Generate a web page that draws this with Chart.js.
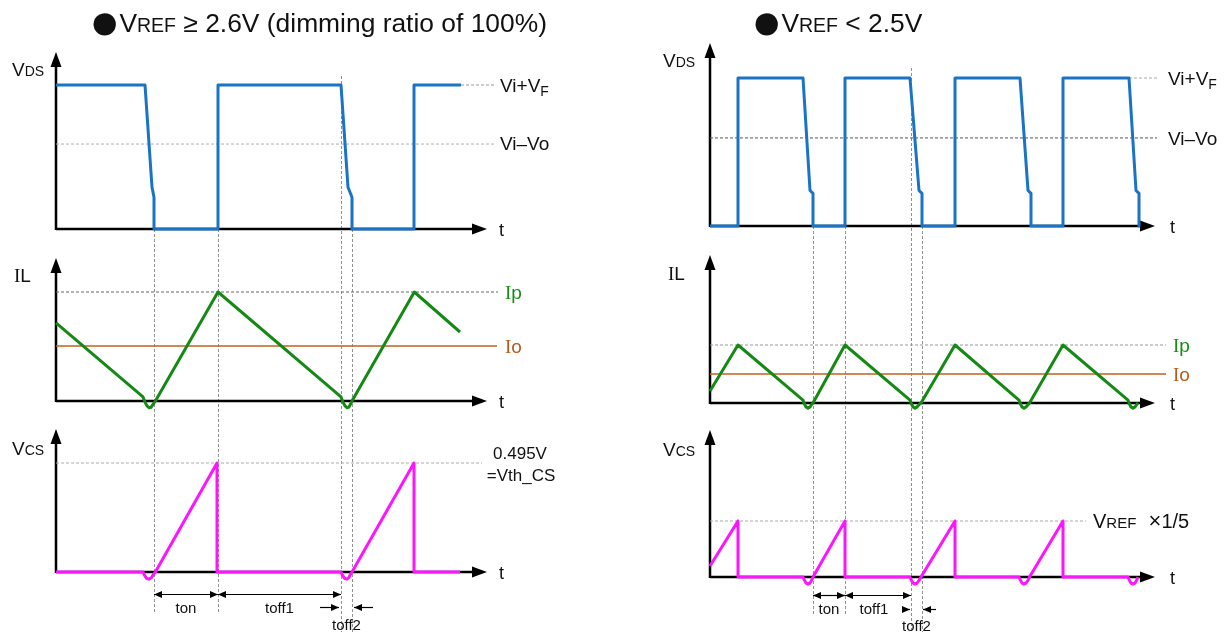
<!DOCTYPE html>
<html><head><meta charset="utf-8">
<script src="https://cdn.jsdelivr.net/npm/chart.js@4.4.1/dist/chart.umd.min.js"></script>
<style>
html,body{margin:0;padding:0;background:#fff;}
body{width:1225px;height:632px;position:relative;overflow:hidden}
canvas{position:absolute;left:0;top:0}
.ttl{position:absolute;font-family:"Liberation Sans",Arial,sans-serif;font-size:26.4px;line-height:30px;color:#111;white-space:nowrap;z-index:10}
.ttl .dot{font-size:52px;line-height:0;vertical-align:-7px;margin-right:-1px}
.ttl .sm{font-size:19.5px}
</style></head><body>
<div class="ttl" style="left:89px;top:8px"><span class="dot">●</span>V<span class="sm">REF</span> ≥ 2.6V (dimming ratio of 100%)</div>
<div class="ttl" style="left:751px;top:8px"><span class="dot">●</span>V<span class="sm">REF</span> &lt; 2.5V</div>
<canvas id="c0" width="1225" height="632"></canvas>
<canvas id="c1" width="1225" height="632"></canvas>
<canvas id="c2" width="1225" height="632"></canvas>
<canvas id="c3" width="1225" height="632"></canvas>
<canvas id="c4" width="1225" height="632"></canvas>
<canvas id="c5" width="1225" height="632"></canvas>
<script>
// ================= DATA =================
// ---- Left: VREF >= 2.6V (time in arbitrary units, levels normalised) ----
const L_T_VDS = [0, 8.9, 9.6, 9.8, 9.8, 16.2, 16.2, 28.5, 29.2, 29.6, 29.6, 35.8, 35.8, 40.5];
const L_VDS   = [1, 1, 0.29, 0.22, 0, 0, 1, 1, 0.29, 0.22, 0, 0, 1, 1];
const L_T_IL  = [0, 8.7, 8.9, 9.1, 9.3, 9.5, 9.7, 9.94, 16.2, 28.5, 28.7, 28.9, 29.1, 29.3, 29.45, 29.6, 35.83, 40.4];
const L_IL    = [0.716, 0.037, -0.01, -0.045, -0.062, -0.058, -0.032, 0, 1, 0.037, -0.01, -0.045, -0.062, -0.055, -0.03, 0, 1, 0.633];
const L_T_VCS = [0, 8.7, 8.85, 9.05, 9.3, 9.55, 9.75, 9.94, 16.1, 16.1, 28.5, 28.65, 28.85, 29.1, 29.3, 29.45, 29.6, 35.8, 35.8, 40.4];
const L_VCS   = [0, 0, -0.03, -0.058, -0.066, -0.05, -0.02, 0, 1, 0, 0, -0.03, -0.058, -0.066, -0.05, -0.02, 0, 1, 0, 0];
const L_VIVF = 1, L_VIVO = 0.59, L_IP = 1, L_IO = 0.505, L_VTH = 1;
const L_GUIDES = [9.8, 16.2, 28.5, 29.6];
const L_TON = [9.8, 16.2], L_TOFF1 = [16.2, 28.5], L_TOFF2 = [28.5, 29.6];

// ---- Right: VREF < 2.5V ----
const R_T_VDS = [0, 2.8, 2.8, 9.3, 10.0, 10.3, 10.3, 13.5, 13.5, 20.0, 20.9, 21.2, 21.2, 24.5, 24.5, 31.0, 31.8, 32.1, 32.1, 35.3, 35.3, 41.9, 42.6, 42.9, 42.9];
const R_VDS   = [0, 0, 1, 1, 0.24, 0.22, 0, 0, 1, 1, 0.24, 0.22, 0, 0, 1, 1, 0.24, 0.22, 0, 0, 1, 1, 0.24, 0.22, 0];
const R_T_IL  = [0, 2.8,
  9.3, 9.45, 9.6, 9.8, 10.0, 10.15, 10.3, 13.5,
  20.0, 20.15, 20.3, 20.5, 20.7, 20.9, 21.1, 24.5,
  30.9, 31.05, 31.2, 31.4, 31.6, 31.8, 31.95, 35.3,
  41.8, 41.95, 42.1, 42.3, 42.5, 42.65, 42.8];
const R_IL    = [0.207, 1,
  0.05, -0.02, -0.07, -0.09, -0.07, -0.03, 0, 1,
  0.05, -0.02, -0.07, -0.09, -0.07, -0.03, 0, 1,
  0.05, -0.02, -0.07, -0.09, -0.07, -0.03, 0, 1,
  0.05, -0.02, -0.07, -0.09, -0.07, -0.03, 0];
const R_T_VCS = [0, 2.8, 2.8,
  9.3, 9.45, 9.6, 9.8, 10.0, 10.15, 10.3, 13.5, 13.5,
  20.0, 20.15, 20.3, 20.5, 20.7, 20.9, 21.1, 24.5, 24.5,
  30.9, 31.05, 31.2, 31.4, 31.6, 31.8, 31.95, 35.3, 35.3,
  41.8, 41.95, 42.1, 42.3, 42.5, 42.65, 42.8];
const R_VCS   = [0.196, 1, 0,
  0, -0.06, -0.11, -0.125, -0.11, -0.06, 0, 1, 0,
  0, -0.06, -0.11, -0.125, -0.11, -0.06, 0, 1, 0,
  0, -0.06, -0.11, -0.125, -0.11, -0.06, 0, 1, 0,
  0, -0.06, -0.11, -0.125, -0.11, -0.06, 0];
const R_VIVF = 1, R_VIVO = 0.595, R_IP = 1, R_IO = 0.5, R_VREF5 = 1;
const R_GUIDES = [10.3, 13.5, 20.1, 21.2];
const R_TON = [10.3, 13.5], R_TOFF1 = [13.5, 20.1], R_TOFF2 = [20.1, 21.2];

// ================= STYLE / LAYOUT =================
const W = 1225, H = 632;
const FONT = '"Liberation Sans", Arial, sans-serif';
const SERIF = '"Liberation Serif", "DejaVu Serif", serif';
const BLUE = '#1a73c4', GREEN = '#148a14', BROWN = '#c0601c', MAGENTA = '#ff14ff';
const IPC = '#168c16', IOC = '#b85a1c';

function zip(t, v) { return t.map((x, i) => ({x, y: v[i]})); }
function line(data, color, width, dash) {
  return {data, borderColor: color, borderWidth: width, borderDash: dash || [], pointRadius: 0,
          tension: 0, fill: false, clip: false, borderJoinStyle: 'round', borderCapStyle: 'butt'};
}
function rich(ctx, x, y, parts, align) {
  const f = p => p[1] + 'px ' + (p[4] || FONT);
  let total = 0;
  for (const p of parts) { ctx.font = f(p); total += ctx.measureText(p[0]).width; }
  let cx = align === 'center' ? x - total / 2 : x;
  ctx.textBaseline = 'alphabetic'; ctx.textAlign = 'left';
  for (const p of parts) {
    ctx.font = f(p); ctx.fillStyle = p[2] || '#111';
    ctx.fillText(p[0], cx, y + (p[3] || 0)); cx += ctx.measureText(p[0]).width;
  }
}
function drawAxes(chart) {
  const {ctx, scales: {x, y}} = chart;
  const x0 = Math.round(x.getPixelForValue(0)), y0 = Math.round(y.getPixelForValue(0));
  const xt = x.getPixelForValue(x.max), yt = y.getPixelForValue(y.max);
  ctx.save(); ctx.strokeStyle = '#000'; ctx.fillStyle = '#000'; ctx.lineWidth = 2.5;
  ctx.beginPath(); ctx.moveTo(x0, y0); ctx.lineTo(xt - 8, y0); ctx.moveTo(x0, y0 + 1); ctx.lineTo(x0, yt + 8); ctx.stroke();
  ctx.beginPath(); ctx.moveTo(xt, y0); ctx.lineTo(xt - 15, y0 - 5.5); ctx.lineTo(xt - 15, y0 + 5.5); ctx.closePath(); ctx.fill();
  ctx.beginPath(); ctx.moveTo(x0, yt); ctx.lineTo(x0 - 5.5, yt + 15); ctx.lineTo(x0 + 5.5, yt + 15); ctx.closePath(); ctx.fill();
  ctx.restore();
}
function drawGuides(chart, times, spans) {
  const {ctx, scales: {x}} = chart;
  ctx.save(); ctx.strokeStyle = 'rgba(110,110,110,0.75)'; ctx.lineWidth = 1; ctx.setLineDash([3, 2]);
  times.forEach((t, i) => {
    const px = Math.round(x.getPixelForValue(t)) + 0.5;
    ctx.beginPath(); ctx.moveTo(px, spans[i][0]); ctx.lineTo(px, spans[i][1]); ctx.stroke();
  });
  ctx.restore();
}
function arrowHead(ctx, x, y, dir) {
  ctx.beginPath(); ctx.moveTo(x, y); ctx.lineTo(x - dir * 8, y - 3.5); ctx.lineTo(x - dir * 8, y + 3.5); ctx.closePath(); ctx.fill();
}
function hArrow(chart, t0, t1, y, heads) {
  const {ctx, scales: {x}} = chart;
  const a = x.getPixelForValue(t0), b = x.getPixelForValue(t1);
  ctx.save(); ctx.strokeStyle = '#000'; ctx.fillStyle = '#000'; ctx.lineWidth = 1.2;
  ctx.beginPath(); ctx.moveTo(a, y + 0.5); ctx.lineTo(b, y + 0.5); ctx.stroke();
  if (heads.includes('L')) arrowHead(ctx, a, y + 0.5, -1);
  if (heads.includes('R')) arrowHead(ctx, b, y + 0.5, 1);
  ctx.restore();
}

function makePanel(id, cfg, datasets, before, after) {
  const pad = {
    left: cfg.ox, right: W - (cfg.ox + cfg.xMax * cfg.kx),
    top: cfg.oy - cfg.yMax * cfg.ky, bottom: H - (cfg.oy - cfg.yMin * cfg.ky)
  };
  return new Chart(document.getElementById(id), {
    type: 'line',
    data: {datasets},
    options: {
      responsive: false, animation: false, events: [],
      layout: {padding: pad},
      scales: {
        x: {type: 'linear', min: 0, max: cfg.xMax, display: false},
        y: {type: 'linear', min: cfg.yMin, max: cfg.yMax, display: false}
      },
      plugins: {legend: {display: false}, tooltip: {enabled: false}, title: {display: false}}
    },
    plugins: [{
      id: 'deco' + id,
      beforeDatasetsDraw(chart) { before && before(chart); drawAxes(chart); },
      afterDatasetsDraw(chart) { after && after(chart); }
    }]
  });
}

// ---------- Left panels ----------
const LX = {ox: 56, kx: 10, xMax: 43.1};
makePanel('c0', {...LX, oy: 229, ky: 144, yMin: -0.2, yMax: 1.229}, [
  line(zip(L_T_VDS, L_VDS), BLUE, 3),
  line([{x: 40.5, y: L_VIVF}, {x: 43.9, y: L_VIVF}], '#999', 1, [3, 2]),
  line([{x: 0, y: L_VIVO}, {x: 43.9, y: L_VIVO}], '#b0b0b0', 1, [3, 2])
], ch => drawGuides(ch, L_GUIDES, [[229, 613], [229, 613], [76, 632], [229, 632]]),
ch => {
  const c = ch.ctx;
  rich(c, 12, 76, [['V', 19], ['DS', 14]]);
  rich(c, 499, 236, [['t', 18]]);
  rich(c, 500, 92, [['Vi+V', 19], ['F', 14, '#111', 4]]);
  rich(c, 500, 150, [['Vi', 19], ['\u2013', 19], ['Vo', 19]]);
});
makePanel('c1', {...LX, oy: 401, ky: 109, yMin: -0.2, yMax: 1.312}, [
  line(zip(L_T_IL, L_IL), GREEN, 3),
  line([{x: 0, y: L_IO}, {x: 44.1, y: L_IO}], BROWN, 1.5),
  line([{x: 0, y: L_IP}, {x: 44.2, y: L_IP}], '#666', 1, [3, 2])
], null, ch => {
  const c = ch.ctx;
  rich(c, 14, 282, [['I', 19, '#111', 0, SERIF], ['L', 19]]);
  rich(c, 499, 408, [['t', 18]]);
  rich(c, 505, 299, [['I', 19, IPC, 0, SERIF], ['p', 19, IPC]]);
  rich(c, 505, 353, [['I', 19, IOC, 0, SERIF], ['o', 19, IOC]]);
});
makePanel('c2', {...LX, oy: 572, ky: 109, yMin: -0.2, yMax: 1.312}, [
  line(zip(L_T_VCS, L_VCS), MAGENTA, 3),
  line([{x: 0, y: L_VTH}, {x: 42.6, y: L_VTH}], '#aaa', 1, [3, 2])
], null, ch => {
  const c = ch.ctx;
  rich(c, 12, 455, [['V', 19], ['CS', 14]]);
  rich(c, 499, 579, [['t', 18]]);
  rich(c, 520, 459, [['0.495V', 17]], 'center');
  rich(c, 521, 481, [['=Vth_CS', 17]], 'center');
  hArrow(ch, L_TON[0], L_TON[1], 594, 'LR');
  hArrow(ch, L_TOFF1[0], L_TOFF1[1], 594, 'LR');
  hArrow(ch, L_TOFF2[0] - 2.1, L_TOFF2[0] - 0.2, 607, 'R');
  hArrow(ch, L_TOFF2[1] + 0.2, L_TOFF2[1] + 2.1, 607, 'L');
  const x = ch.scales.x;
  rich(c, x.getPixelForValue((L_TON[0] + L_TON[1]) / 2), 613, [['ton', 15]], 'center');
  rich(c, x.getPixelForValue((L_TOFF1[0] + L_TOFF1[1]) / 2), 613, [['toff1', 15]], 'center');
  rich(c, x.getPixelForValue((L_TOFF2[0] + L_TOFF2[1]) / 2), 630, [['toff2', 15]], 'center');
});

// ---------- Right panels ----------
const RX = {ox: 710, kx: 10, xMax: 44.5};
makePanel('c3', {...RX, oy: 226, ky: 148, yMin: -0.2, yMax: 1.236}, [
  line(zip(R_T_VDS, R_VDS), BLUE, 3),
  line([{x: 41.9, y: R_VIVF}, {x: 44.7, y: R_VIVF}], '#aaa', 1, [3, 2]),
  line([{x: 0, y: R_VIVO}, {x: 44.7, y: R_VIVO}], '#555', 1, [3, 2])
], ch => drawGuides(ch, R_GUIDES, [[226, 615], [226, 615], [68, 632], [226, 632]]),
ch => {
  const c = ch.ctx;
  rich(c, 663, 67, [['V', 19], ['DS', 14]]);
  rich(c, 1170, 233, [['t', 18]]);
  rich(c, 1168, 85, [['Vi+V', 19], ['F', 14, '#111', 4]]);
  rich(c, 1168, 145, [['Vi', 19], ['\u2013', 19], ['Vo', 19]]);
});
makePanel('c4', {...RX, oy: 403, ky: 58, yMin: -0.35, yMax: 2.552}, [
  line(zip(R_T_IL, R_IL), GREEN, 3),
  line([{x: 0, y: R_IO}, {x: 45.6, y: R_IO}], BROWN, 1.5),
  line([{x: 0, y: R_IP}, {x: 45.6, y: R_IP}], '#999', 1, [3, 2])
], null, ch => {
  const c = ch.ctx;
  rich(c, 668, 280, [['I', 19, '#111', 0, SERIF], ['L', 19]]);
  rich(c, 1170, 410, [['t', 18]]);
  rich(c, 1173, 352, [['I', 19, IPC, 0, SERIF], ['p', 19, IPC]]);
  rich(c, 1173, 381, [['I', 19, IOC, 0, SERIF], ['o', 19, IOC]]);
});
makePanel('c5', {...RX, oy: 577, ky: 56, yMin: -0.35, yMax: 2.625}, [
  line(zip(R_T_VCS, R_VCS), MAGENTA, 3),
  line([{x: 0, y: R_VREF5}, {x: 37.6, y: R_VREF5}], '#aaa', 1, [3, 2])
], null, ch => {
  const c = ch.ctx;
  rich(c, 663, 456, [['V', 19], ['CS', 14]]);
  rich(c, 1170, 584, [['t', 18]]);
  rich(c, 1093, 528, [['V', 20], ['REF', 15], ['  \u00d7', 22], ['1/5', 20]]);
  hArrow(ch, R_TON[0], R_TON[1], 595, 'LR');
  hArrow(ch, R_TOFF1[0], R_TOFF1[1], 595, 'LR');
  hArrow(ch, R_TOFF2[0] - 0.9, R_TOFF2[0] - 0.1, 609, 'R');
  hArrow(ch, R_TOFF2[1] + 0.1, R_TOFF2[1] + 1.4, 609, 'L');
  const x = ch.scales.x;
  rich(c, x.getPixelForValue((R_TON[0] + R_TON[1]) / 2), 614, [['ton', 15]], 'center');
  rich(c, x.getPixelForValue((R_TOFF1[0] + R_TOFF1[1]) / 2) - 4, 614, [['toff1', 15]], 'center');
  rich(c, x.getPixelForValue((R_TOFF2[0] + R_TOFF2[1]) / 2), 631, [['toff2', 15]], 'center');
});
</script>
</body></html>
